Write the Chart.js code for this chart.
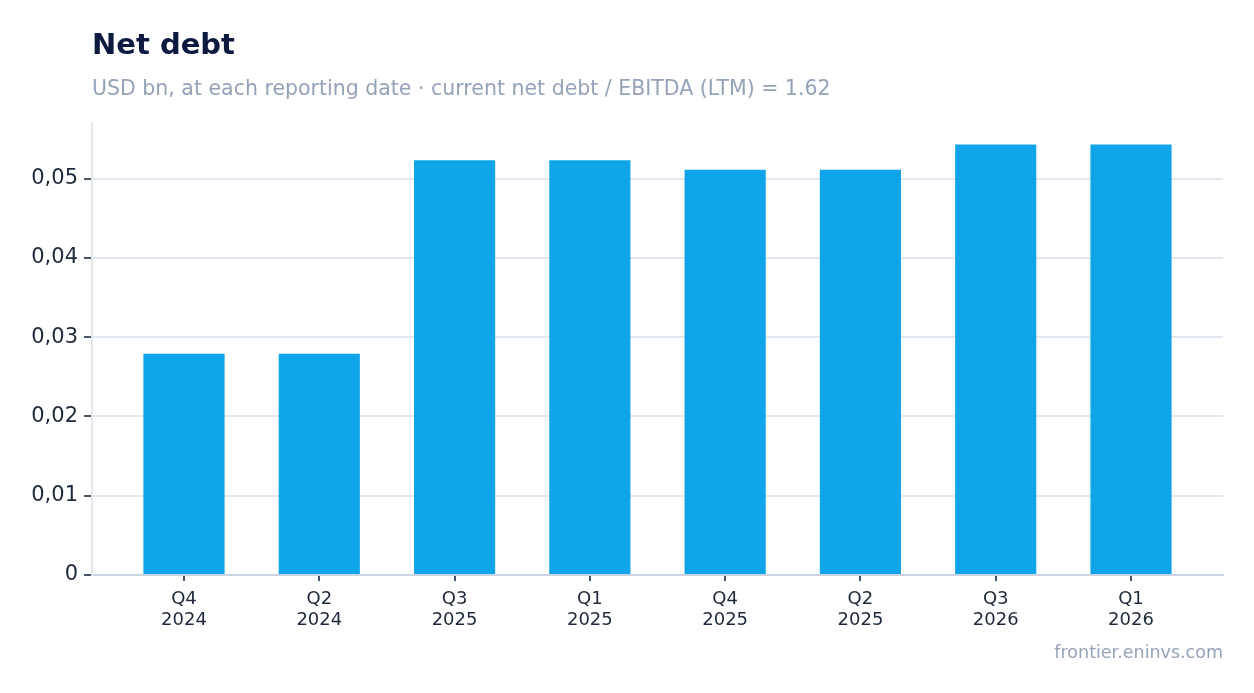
<!DOCTYPE html>
<html>
<head>
<meta charset="utf-8">
<script src="https://cdn.jsdelivr.net/npm/chart.js@4/dist/chart.umd.min.js"></script>
<style>
  html, body { margin: 0; padding: 0; background: #ffffff; }
  body { width: 1254px; height: 693px; position: relative; overflow: hidden; font-family: "DejaVu Sans", sans-serif; }
  #wrap { position: absolute; left: 0; top: 0; width: 1254px; height: 693px; }
  #title { position: absolute; left: 92px; top: 25px; font-size: 29px; line-height: 38px; font-weight: bold; color: #0c1a3f; white-space: nowrap; }
  #subtitle { position: absolute; left: 92px; top: 75px; font-size: 20.5px; line-height: 26px; color: #94a3b8; white-space: nowrap; }
  #footer { position: absolute; right: 31px; top: 641px; font-size: 17.5px; line-height: 22px; color: #94a3b8; white-space: nowrap; }
</style>
</head>
<body>
<div id="wrap"><canvas id="c"></canvas></div>
<div id="title">Net debt</div>
<div id="subtitle">USD bn, at each reporting date · current net debt / EBITDA (LTM) = 1.62</div>
<div id="footer">frontier.eninvs.com</div>
<script>
const quarters = ["Q4", "Q2", "Q3", "Q1", "Q4", "Q2", "Q3", "Q1"];
const years = ["2024", "2024", "2025", "2025", "2025", "2025", "2026", "2026"];
const netDebt = [0.0279, 0.0279, 0.0523, 0.0523, 0.0511, 0.0511, 0.0543, 0.0543];
const yTickStep = 0.01;
const yMax = 0.057;

const labels = quarters.map((q, i) => [q, years[i]]);
const points = netDebt.map((v, i) => ({ x: i, y: v }));

new Chart(document.getElementById("c"), {
  type: "bar",
  data: {
    datasets: [{
      label: "Net debt",
      data: points,
      backgroundColor: "#10a5e8",
      borderWidth: 0,
      barPercentage: 0.6,
      categoryPercentage: 1.0
    }]
  },
  options: {
    responsive: true,
    maintainAspectRatio: false,
    animation: false,
    layout: { padding: { top: 123, right: 31, bottom: 0, left: 0 } },
    plugins: {
      legend: { display: false },
      tooltip: { enabled: false },
      title: { display: false }
    },
    scales: {
      x: {
        type: "linear",
        offset: false,
        min: -0.68,
        max: labels.length - 1 + 0.68,
        grid: { offset: false, drawOnChartArea: false, drawTicks: true, tickLength: 6, tickColor: "#475569", lineWidth: 2 },
        border: { display: true, color: "#cbd5e1", width: 2 },
        ticks: {
          stepSize: 1,
          includeBounds: false,
          autoSkip: false,
          color: "#1e293b",
          font: { family: "DejaVu Sans", size: 18, lineHeight: 1.17 },
          padding: 8,
          maxRotation: 0,
          callback: (v) => (Number.isInteger(v) && labels[v]) ? labels[v] : ""
        },
        afterFit: (s) => { s.height = 118; }
      },
      y: {
        min: 0,
        max: yMax,
        grid: { color: "#e2e8f0", lineWidth: 2, drawTicks: true, tickLength: 8, tickColor: "#475569" },
        border: { display: true, color: "#e5e7eb", width: 2 },
        ticks: {
          stepSize: yTickStep,
          includeBounds: false,
          color: "#1e293b",
          font: { family: "DejaVu Sans", size: 21 },
          padding: 6,
          callback: (v) => {
            const r = Math.round(v * 1000) / 1000;
            if (r === 0) return "0";
            return r.toFixed(2).replace(".", ",");
          }
        },
        afterFit: (s) => { s.width = 92; }
      }
    }
  }
});
</script>
</body>
</html>
